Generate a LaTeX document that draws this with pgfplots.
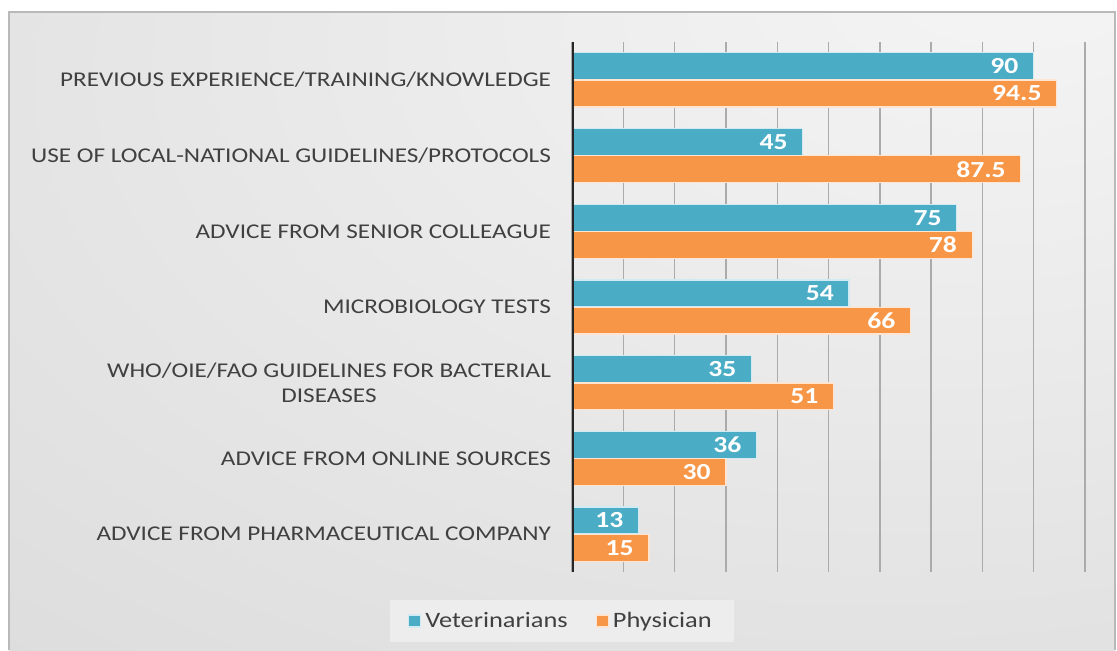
\documentclass[border=0pt]{standalone}
\usepackage{fontspec}
\setmainfont[FakeStretch=1.2]{Carlito}
\usepackage{pgfplots}
\pgfplotsset{compat=1.18}

\definecolor{vet}{HTML}{4BACC6}
\definecolor{phy}{HTML}{F79646}
\definecolor{labelgray}{HTML}{404040}
\definecolor{gridgray}{HTML}{ABABAB}
\definecolor{bgin}{HTML}{F5F5F5}
\definecolor{bgmid}{HTML}{EFEFEF}
\definecolor{bgout}{HTML}{C4C4C4}
\pgfdeclareradialshading{panelbg}{\pgfpoint{22bp}{30bp}}{%
  color(0bp)=(bgin); color(15bp)=(bgmid); color(110bp)=(bgout)}

\begin{document}
\begin{tikzpicture}[x=1pt,y=1pt]
\useasboundingbox (0,0) rectangle (558.5,325);
% background panel
\shade[shading=panelbg] (4.5,0) rectangle (557.5,319);
\draw[gray!55, line width=0.8pt] (4.5,0) -- (4.5,319) -- (557.5,319) -- (557.5,0);

\begin{axis}[
    at={(286pt,39pt)}, anchor=south west,
    scale only axis, width=256.5pt, height=265pt,
    xbar, xmin=0, xmax=100, ymin=-0.5, ymax=6.5,
    y dir=reverse,
    bar width=0.355,
    axis line style={draw=none},
    major tick length=0pt,
    xtick={0,10,...,100}, xticklabels={},
    xmajorgrids, grid style={gridgray, line width=0.7pt},
    ytick={0,...,6},
    yticklabels={
        PREVIOUS EXPERIENCE/TRAINING/KNOWLEDGE,
        USE OF LOCAL-NATIONAL GUIDELINES/PROTOCOLS,
        ADVICE FROM SENIOR COLLEAGUE,
        MICROBIOLOGY TESTS,
        {WHO/OIE/FAO GUIDELINES FOR BACTERIAL\\DISEASES},
        ADVICE FROM ONLINE SOURCES,
        ADVICE FROM PHARMACEUTICAL COMPANY},
    yticklabel style={font=\fontsize{10.5}{12.5}\selectfont, text=labelgray,
        align=center, xshift=-7pt},
    nodes near coords={\pgfmathprintnumber[assume math mode=true]{\pgfplotspointmeta}},
    every node near coord/.append style={anchor=east, xshift=-4pt,
        font=\fontsize{11.5}{13}\selectfont\bfseries, text=white},
    legend columns=2,
    legend style={at={(-0.0195,-0.0925)}, anchor=center, draw=none,
        fill=gray!14, inner xsep=9pt, inner ysep=4pt,
        font=\fontsize{11}{13}\selectfont, text=labelgray,
        /tikz/every even column/.append style={column sep=12pt}},
    legend image code/.code={\fill[#1] (0pt,-3pt) rectangle (6pt,3pt);},
]
\addplot[fill=vet, draw=white!75!vet, line width=0.6pt, bar shift=-0.18]
    coordinates {(90,0) (45,1) (75,2) (54,3) (35,4) (36,5) (13,6)};
\addplot[fill=phy, draw=white!75!phy, line width=0.6pt, bar shift=0.18]
    coordinates {(94.5,0) (87.5,1) (78,2) (66,3) (51,4) (30,5) (15,6)};
\legend{Veterinarians, Physician}
\draw[black!85, line width=1.5pt] (axis cs:0,-0.5) -- (axis cs:0,6.5);
\end{axis}
\end{tikzpicture}
\end{document}
